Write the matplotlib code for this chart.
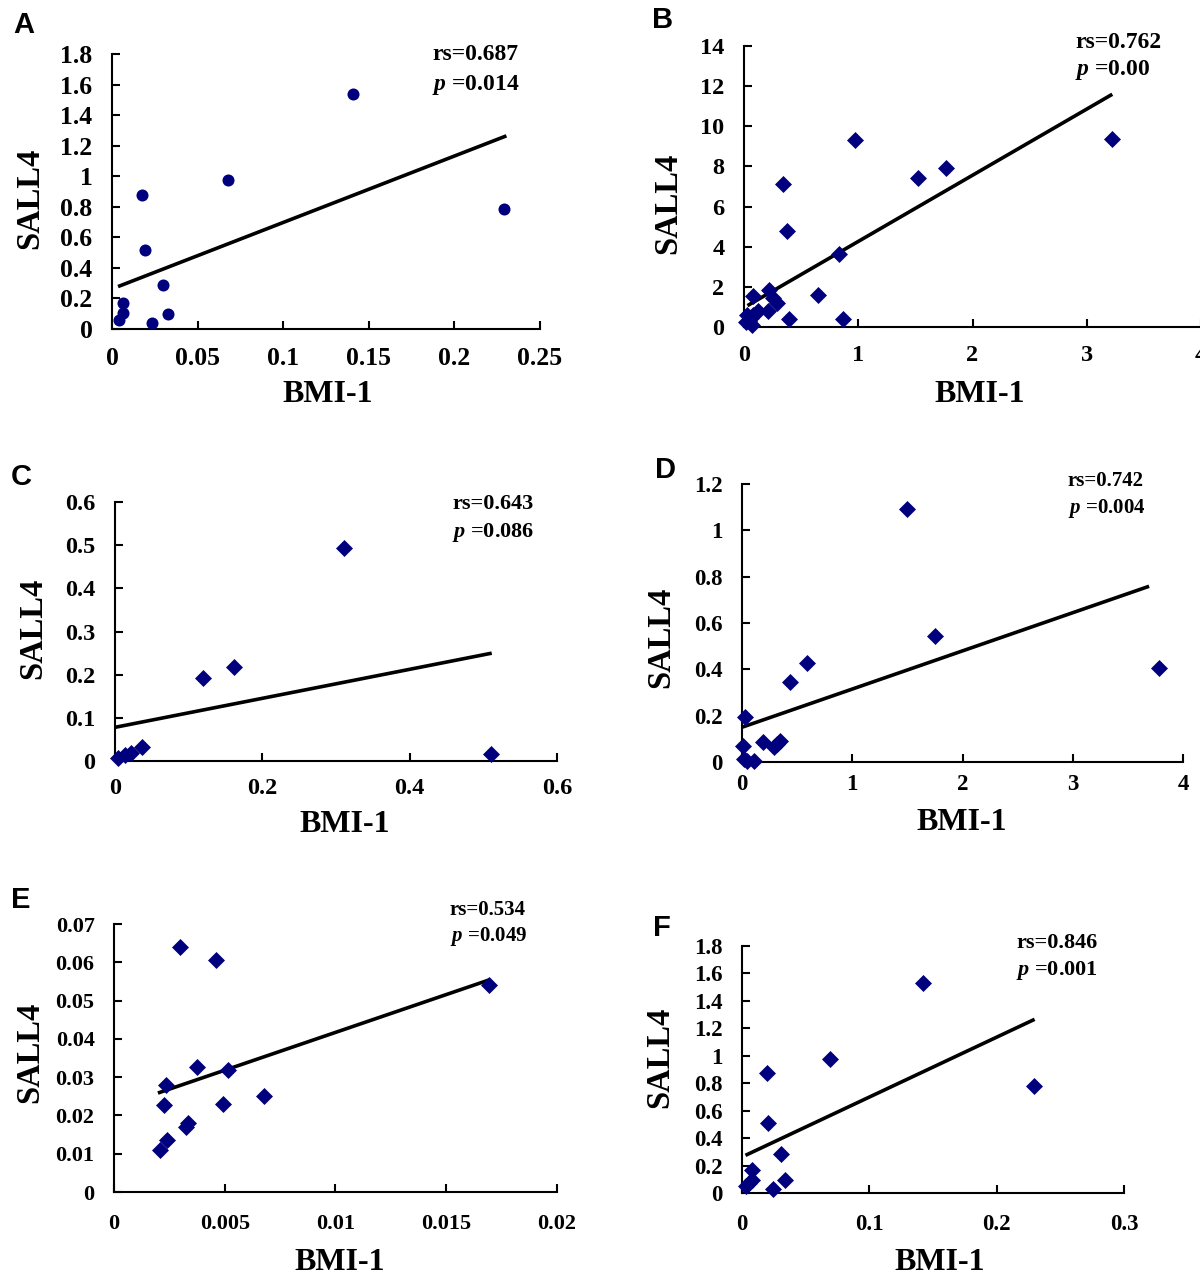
import matplotlib
matplotlib.use("Agg")
import matplotlib.pyplot as plt

plt.rcParams['font.family'] = 'Liberation Serif'
plt.rcParams['font.weight'] = 'bold'
plt.rcParams['mathtext.fontset'] = 'custom'
plt.rcParams['mathtext.it'] = 'Liberation Serif:italic:bold'
plt.rcParams['mathtext.rm'] = 'Liberation Serif:bold'

W, H = 1200, 1282
NAVY = '#00007f'

# --- data ---
a_x = [0.141, 0.068, 0.0176, 0.019, 0.0296, 0.0328, 0.0233, 0.0063, 0.0063, 0.0038, 0.229]
a_y = [1.54, 0.977, 0.88, 0.515, 0.286, 0.10, 0.039, 0.173, 0.104, 0.061, 0.784]
a_fit_x = [0.0045, 0.2294]
a_fit_y = [0.282, 1.26]

b_x = [3.22, 0.972, 1.771, 1.527, 0.345, 0.372, 0.833, 0.650, 0.217, 0.25, 0.29, 0.075,
       0.207, 0.119, 0.078, 0.027, 0.393, 0.864, 0.044, 0.02, 0.068, 0.061]
b_y = [9.38, 9.30, 7.94, 7.42, 7.11, 4.80, 3.64, 1.59, 1.82, 1.44, 1.18, 1.52,
       0.81, 0.81, 0.61, 0.61, 0.40, 0.40, 0.28, 0.23, 0.12, 0.45]
b_fit_x = [0.044, 3.21]
b_fit_y = [1.11, 11.55]

c_x = [0.311, 0.161, 0.12, 0.0373, 0.022, 0.013, 0.0042, 0.5105]
c_y = [0.493, 0.2185, 0.1915, 0.0332, 0.0193, 0.0147, 0.006, 0.0162]
c_fit_x = [0.003, 0.509]
c_fit_y = [0.079, 0.249]

d_x = [1.50, 1.747, 0.594, 0.439, 3.782, 0.025, 0.007, 0.19, 0.344, 0.316, 0.288, 0.014, 0.042, 0.105]
d_y = [1.092, 0.545, 0.426, 0.345, 0.404, 0.193, 0.068, 0.085, 0.092, 0.078, 0.063, 0.013, 0.003, 0.003]
d_fit_x = [0.0, 3.677]
d_fit_y = [0.15, 0.756]

e_x = [0.00296, 0.0046, 0.01694, 0.00376, 0.00513, 0.00236, 0.00679, 0.00227, 0.0049,
       0.00332, 0.00324, 0.0024, 0.00206]
e_y = [0.0641, 0.0605, 0.054, 0.0326, 0.0319, 0.028, 0.025, 0.0227, 0.023,
       0.018, 0.017, 0.0137, 0.011]
e_fit_x = [0.00206, 0.01689]
e_fit_y = [0.026, 0.0553]

f_x = [0.1418, 0.0694, 0.0195, 0.0201, 0.0304, 0.0335, 0.024, 0.0079, 0.0079, 0.0055, 0.0033, 0.2297]
f_y = [1.529, 0.976, 0.871, 0.507, 0.284, 0.097, 0.029, 0.167, 0.097, 0.07, 0.049, 0.78]
f_fit_x = [0.004, 0.2285]
f_fit_y = [0.28, 1.26]

fig = plt.figure(figsize=(W / 100, H / 100), dpi=100)


def px_axes(x0, x1, top, bottom):
    return fig.add_axes([x0 / W, 1 - bottom / H, (x1 - x0) / W, (bottom - top) / H])


def ftext(x, y, s, **kw):
    fig.text(x / W, 1 - y / H, s, **kw)


def panel(box, xs, ys, fx, fy, marker, xlim, ylim, xticks, yticks, xtl, ytl,
          tsize, ssize, letter, lpos, stats, spos, ylab_pos, xlab_pos, xpad=12):
    ax = px_axes(*box)
    ax.scatter(xs, ys, marker=marker, s=75, color=NAVY,
               zorder=3, clip_on=False, linewidths=0)
    ax.plot(fx, fy, color='black', lw=2.6, zorder=2)
    ax.set_xlim(*xlim)
    ax.set_ylim(*ylim)
    ax.set_xticks(xticks)
    ax.set_yticks(yticks)
    ax.set_xticklabels(xtl)
    ax.set_yticklabels(ytl)
    for s in ['top', 'right']:
        ax.spines[s].set_visible(False)
    for s in ['left', 'bottom']:
        ax.spines[s].set_linewidth(1.5)
    ax.tick_params(direction='in', length=6, width=1.5, labelsize=tsize)
    ax.tick_params(axis='x', pad=xpad)
    ax.tick_params(axis='y', pad=14)
    ftext(lpos[0], lpos[1], letter, family='Liberation Sans', fontsize=21,
          fontweight='bold', ha='left', va='center')
    ftext(spos[0], spos[1], stats[0], fontsize=ssize, ha='left', va='center')
    ftext(spos[0], spos[2], r'$p$ =' + stats[1], fontsize=ssize, ha='left', va='center')
    ftext(ylab_pos[0], ylab_pos[1], 'SALL4', fontsize=23.5, rotation=90,
          ha='center', va='center')
    ftext(xlab_pos[0], xlab_pos[1], 'BMI-1', fontsize=23, ha='center', va='center')
    return ax


panel((112, 540, 54, 329), a_x, a_y, a_fit_x, a_fit_y, 'o',
      (0, 0.25), (0, 1.8), [0, 0.05, 0.1, 0.15, 0.2, 0.25],
      [0, 0.2, 0.4, 0.6, 0.8, 1.0, 1.2, 1.4, 1.6, 1.8],
      ['0', '0.05', '0.1', '0.15', '0.2', '0.25'],
      ['0', '0.2', '0.4', '0.6', '0.8', '1', '1.2', '1.4', '1.6', '1.8'],
      18.5, 17, 'A', (13, 25), ('rs=0.687', '0.014'), (432, 55, 85), (30, 198), (328, 394),
      xpad=13)

panel((744, 1201, 46, 327), b_x, b_y, b_fit_x, b_fit_y, 'D',
      (0, 4), (0, 14), [0, 1, 2, 3, 4], [0, 2, 4, 6, 8, 10, 12, 14],
      ['0', '1', '2', '3', '4'], ['0', '2', '4', '6', '8', '10', '12', '14'],
      17.5, 17, 'B', (652, 20), ('rs=0.762', '0.00'), (1075, 42, 70), (668, 203), (980, 394),
      xpad=13)

panel((115, 557, 502, 761), c_x, c_y, c_fit_x, c_fit_y, 'D',
      (0, 0.6), (0, 0.6), [0, 0.2, 0.4, 0.6], [0, 0.1, 0.2, 0.3, 0.4, 0.5, 0.6],
      ['0', '0.2', '0.4', '0.6'], ['0', '0.1', '0.2', '0.3', '0.4', '0.5', '0.6'],
      17.5, 16, 'C', (11, 477), ('rs=0.643', '0.086'), (452, 504, 533), (33, 628), (345, 825),
      xpad=12)

panel((742, 1183, 484, 762), d_x, d_y, d_fit_x, d_fit_y, 'D',
      (0, 4), (0, 1.2), [0, 1, 2, 3, 4], [0, 0.2, 0.4, 0.6, 0.8, 1.0, 1.2],
      ['0', '1', '2', '3', '4'], ['0', '0.2', '0.4', '0.6', '0.8', '1', '1.2'],
      16.5, 15, 'D', (655, 470), ('rs=0.742', '0.004'), (1068, 481, 508), (661, 637), (962, 823),
      xpad=9)

panel((114, 557, 924, 1192), e_x, e_y, e_fit_x, e_fit_y, 'D',
      (0, 0.02), (0, 0.07), [0, 0.005, 0.01, 0.015, 0.02],
      [0, 0.01, 0.02, 0.03, 0.04, 0.05, 0.06, 0.07],
      ['0', '0.005', '0.01', '0.015', '0.02'],
      ['0', '0.01', '0.02', '0.03', '0.04', '0.05', '0.06', '0.07'],
      16, 15, 'E', (11, 900), ('rs=0.534', '0.049'), (450, 910, 937), (30, 1052), (340, 1262),
      xpad=16)

panel((742, 1124, 946, 1193), f_x, f_y, f_fit_x, f_fit_y, 'D',
      (0, 0.3), (0, 1.8), [0, 0.1, 0.2, 0.3],
      [0, 0.2, 0.4, 0.6, 0.8, 1.0, 1.2, 1.4, 1.6, 1.8],
      ['0', '0.1', '0.2', '0.3'],
      ['0', '0.2', '0.4', '0.6', '0.8', '1', '1.2', '1.4', '1.6', '1.8'],
      16.5, 16, 'F', (653, 928), ('rs=0.846', '0.001'), (1016, 943, 971), (660, 1057), (940, 1262),
      xpad=15)

fig.savefig('out.png', dpi=100)
